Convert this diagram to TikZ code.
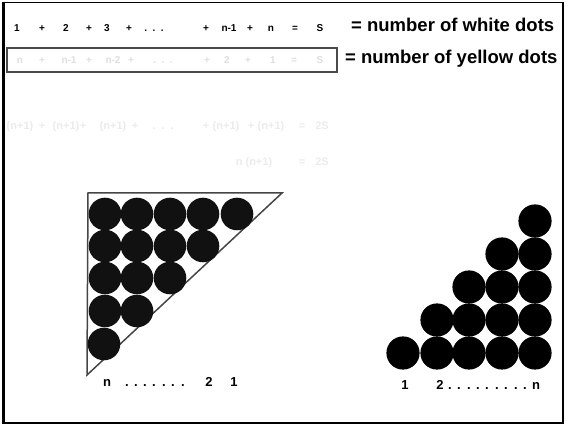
\documentclass[tikz,border=0pt]{standalone}
\usepackage{fontspec}
\setmainfont{Liberation Sans}
\definecolor{boxgray}{HTML}{4A4A4A}
\definecolor{trigray}{HTML}{454545}
\definecolor{fadeA}{HTML}{DEDEDE}
\definecolor{fadeB}{HTML}{EBEBEB}
\definecolor{dotL}{HTML}{111111}
\begin{document}
\begin{tikzpicture}[x=1pt,y=-1pt,
  sm/.style={font=\fontsize{10}{12}\selectfont\bfseries, inner sep=0pt, anchor=base},
  md/.style={font=\fontsize{11}{13}\selectfont\bfseries, inner sep=0pt, anchor=base, text=fadeB},
  big/.style={font=\fontsize{18.5}{22}\selectfont\bfseries, inner sep=0pt, anchor=base west},
  lab/.style={font=\fontsize{13}{15}\selectfont\bfseries, inner sep=0pt, anchor=base},
  dotl/.style={circle, fill=dotL, minimum size=32.6, inner sep=0pt},
  dotr/.style={circle, fill=black, minimum size=33.2, inner sep=0pt}]
\useasboundingbox (0,0) rectangle (566,425);
% frame
\draw[line width=1.2pt] (3.5,2.5) rectangle (563,423);
\draw[line width=3pt] (3.5,1.9) -- (3.5,423.6);
% row 1
\foreach \t/\x [count=\i] in {1/17, +/42, 2/66, +/89, 3/107, +/129, {.~~.~~.}/154, +/206, n-1/229, +/250, n/271, =/295, S/320}
  \node[sm] (ra\i) at (\x,32) {\t};
\node[big] (white) at (351,32) {= number of white dots};
% row 2
\node[draw=boxgray, line width=1.5pt, minimum width=330, minimum height=24, inner sep=0pt] (box) at (172,60) {};
\foreach \t/\x [count=\i] in {n/20, +/42, n-1/69, +/89, n-2/113, +/131, {.~~.~~.}/163, +/207, 2/227, +/248, 1/273, =/294, S/320}
  \node[sm, text=fadeA] (rb\i) at (\x,64) {\t};
\node[big] (yellow) at (345,64) {= number of yellow dots};
% row 3
\foreach \t/\x [count=\i] in {(n+1)/20, +/42, (n+1)/66, +/83, (n+1)/113, +/135, {.~~.~~.}/163, +/206, (n+1)/226, +/251, (n+1)/271, =/302, 2S/322}
  \node[md] (rc\i) at (\x,130) {\t};
% row 4
\node[md] (rd1) at (254,166) {n (n+1)};
\node[md] (rd2) at (302,166) {=};
\node[md] (rd3) at (322,166) {2S};
% triangle
\draw[draw=trigray, line width=1.5pt] (88,193) -- (282,193) -- (87,375) -- cycle;
\foreach \yy/\xs [count=\r] in {214/{105,137,170,203,237}, 246/{105,137,170,203}, 278/{105,137,170}, 311/{105,137}, 344/{104}}
  \foreach \xx [count=\c] in \xs
    \node[dotl] (L\r-\c) at (\xx,\yy) {};
% staircase
\foreach \yy/\xs [count=\r] in {353/{403,437,469,502,535}, 320/{437,469,502,535}, 287/{469,502,535}, 254/{502,535}, 221/{535}}
  \foreach \xx [count=\c] in \xs
    \node[dotr] (R\r-\c) at (\xx,\yy) {};
% labels left
\node[lab] (ln) at (107,387) {n};
\foreach \x [count=\i] in {127,136,145,154,164,173,183}
  \node[lab] (ld\i) at (\x,387) {.};
\node[lab] (l2) at (209,387) {2};
\node[lab] (l1) at (234,387) {1};
% labels right
\node[lab] (r1) at (405,390) {1};
\node[lab] (r2) at (440,390) {2};
\foreach \x [count=\i] in {450,459,469,478,487,497,506,516,525}
  \node[lab] (rdd\i) at (\x,390) {.};
\node[lab] (rn) at (536,390) {n};
\end{tikzpicture}
\end{document}
